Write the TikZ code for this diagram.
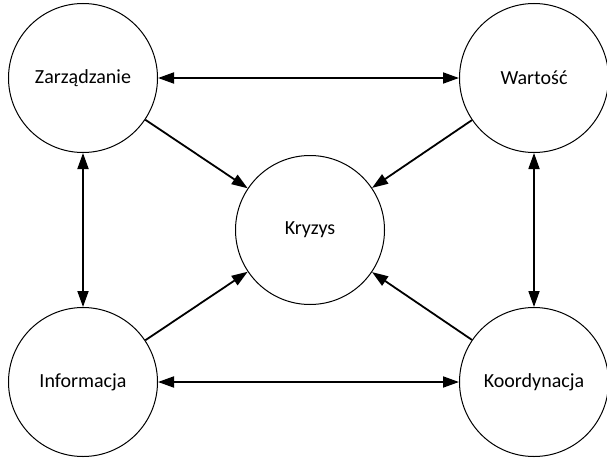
\documentclass[tikz,border=0pt]{standalone}
\usepackage{fontspec}
\setmainfont{Carlito}
\usetikzlibrary{arrows.meta}
\begin{document}
\begin{tikzpicture}[x=1pt,y=1pt,
  topic/.style={circle,draw=black,line width=1pt,minimum size=149pt,inner sep=0pt,
    font=\fontsize{20}{24}\selectfont},
  link/.style={line width=1.8pt,-{Triangle[length=16pt,width=11pt]}},
  biglink/.style={line width=1.8pt,{Triangle[length=16pt,width=11pt]}-{Triangle[length=16pt,width=11pt]}}]
\useasboundingbox (0,0) rectangle (607,459);
% the five concepts
\node[topic] (zar) at (83,381) {Zarządzanie};
\node[topic] (war) at (534,381) {Wartość};
\node[topic] (kry) at (310,229) {Kryzys};
\node[topic] (inf) at (83,77) {Informacja};
\node[topic] (koo) at (534,77) {Koordynacja};
% mutual links around the frame
\draw[biglink] (zar) -- (war);
\draw[biglink] (zar) -- (inf);
\draw[biglink] (war) -- (koo);
\draw[biglink] (inf) -- (koo);
% every concept feeds the crisis
\draw[link] (zar) -- (kry);
\draw[link] (war) -- (kry);
\draw[link] (inf) -- (kry);
\draw[link] (koo) -- (kry);
\end{tikzpicture}
\end{document}
